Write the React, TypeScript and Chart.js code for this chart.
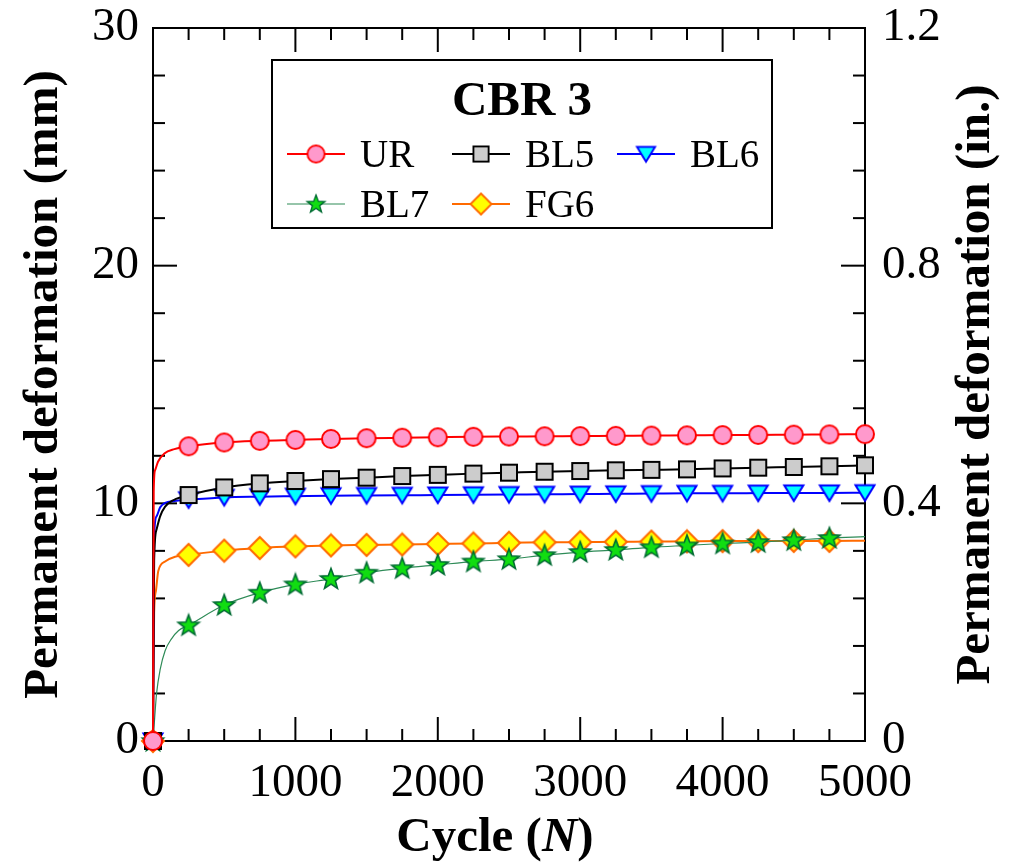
import React, { useEffect, useRef } from 'react';
import { Chart, registerables } from 'chart.js';

Chart.register(...registerables);

// ---------- data ----------
const CYCLES = [0, 250, 500, 750, 1000, 1250, 1500, 1750, 2000, 2250, 2500, 2750, 3000, 3250, 3500, 3750, 4000, 4250, 4500, 4750, 5000];

const UR = [0, 12.4, 12.56, 12.63, 12.67, 12.71, 12.74, 12.76, 12.78, 12.8, 12.81, 12.82, 12.83, 12.84, 12.85, 12.86, 12.87, 12.88, 12.89, 12.9, 12.91];
const BL5 = [0, 10.35, 10.67, 10.84, 10.94, 11.02, 11.08, 11.15, 11.2, 11.25, 11.29, 11.33, 11.36, 11.39, 11.41, 11.43, 11.47, 11.5, 11.53, 11.56, 11.6];
const BL6 = [0, 10.15, 10.25, 10.28, 10.3, 10.32, 10.33, 10.34, 10.35, 10.36, 10.37, 10.38, 10.39, 10.4, 10.41, 10.42, 10.42, 10.43, 10.44, 10.44, 10.45];
const BL7 = [0, 4.87, 5.72, 6.24, 6.59, 6.82, 7.08, 7.27, 7.41, 7.55, 7.65, 7.82, 7.95, 8.04, 8.15, 8.23, 8.31, 8.37, 8.45, 8.54, 8.6];
const FG6 = [0, 7.83, 8.01, 8.12, 8.19, 8.23, 8.25, 8.27, 8.29, 8.31, 8.34, 8.36, 8.37, 8.38, 8.39, 8.4, 8.41, 8.41, 8.42, 8.42, 8.43];

// early part of the fitted curves (no markers)
const UR_EARLY_N = [5, 15, 35, 80, 150];
const UR_EARLY = [10.5, 11.4, 11.75, 12.1, 12.28];
const BL5_EARLY_N = [8, 25, 50, 85, 145, 200];
const BL5_EARLY = [7.6, 8.9, 9.45, 9.86, 10.14, 10.26];
const BL6_EARLY_N = [8, 25, 50, 85, 150];
const BL6_EARLY = [8.6, 9.45, 9.83, 10.02, 10.1];
const BL7_EARLY_N = [12, 25, 50, 85, 130, 180];
const BL7_EARLY = [1.0, 2.0, 3.0, 3.8, 4.3, 4.65];
const FG6_EARLY_N = [8, 20, 37, 85, 155];
const FG6_EARLY = [5.4, 6.3, 7.15, 7.55, 7.75];

const X_TICKS = [0, 1000, 2000, 3000, 4000, 5000];
const Y_TICKS = [0, 10, 20, 30];
const Y2_TICKS = [0, 0.4, 0.8, 1.2];
const X_MINOR_STEP = 250;
const Y_MINOR_STEP = 2;

const LEGEND_TITLE = 'CBR 3';
const X_TITLE = ['Cycle (', 'N', ')'];
const Y_TITLE = 'Permanent deformation (mm)';
const Y2_TITLE = 'Permanent deformation (in.)';

// ---------- styles ----------
type Series = {
  label: string; values: number[]; earlyN: number[]; early: number[];
  color: string; width: number; marker: string; lastMarker: boolean; order: number;
};
const SERIES: Series[] = [
  { label: 'UR', values: UR, earlyN: UR_EARLY_N, early: UR_EARLY, color: '#ff0000', width: 2, marker: 'circle', lastMarker: true, order: 0 },
  { label: 'BL5', values: BL5, earlyN: BL5_EARLY_N, early: BL5_EARLY, color: '#000000', width: 2, marker: 'square', lastMarker: true, order: 1 },
  { label: 'BL6', values: BL6, earlyN: BL6_EARLY_N, early: BL6_EARLY, color: '#0000ff', width: 2, marker: 'tri', lastMarker: true, order: 2 },
  { label: 'BL7', values: BL7, earlyN: BL7_EARLY_N, early: BL7_EARLY, color: '#2e8b57', width: 1.2, marker: 'star', lastMarker: false, order: 3 },
  { label: 'FG6', values: FG6, earlyN: FG6_EARLY_N, early: FG6_EARLY, color: '#ff6a00', width: 2, marker: 'diamond', lastMarker: false, order: 4 },
];

const SERIF = '"Liberation Serif", "Times New Roman", serif';

function makeMarker(kind: string): HTMLCanvasElement {
  const s = 26;
  const c = document.createElement('canvas');
  c.width = s; c.height = s;
  const g = c.getContext('2d')!;
  const m = s / 2;
  g.lineWidth = 2;
  g.lineJoin = 'miter';
  g.beginPath();
  if (kind === 'circle') {
    g.arc(m, m, 9, 0, Math.PI * 2);
    g.fillStyle = '#ff99cc'; g.strokeStyle = '#ff0000';
  } else if (kind === 'square') {
    g.rect(m - 8, m - 8, 16, 16);
    g.fillStyle = '#cccccc'; g.strokeStyle = '#000000';
  } else if (kind === 'tri') {
    g.moveTo(m - 9.5, m - 7.5); g.lineTo(m + 9.5, m - 7.5); g.lineTo(m, m + 8); g.closePath();
    g.fillStyle = '#00ffff'; g.strokeStyle = '#0000ff';
  } else if (kind === 'diamond') {
    g.moveTo(m, m - 11); g.lineTo(m + 11, m); g.lineTo(m, m + 11); g.lineTo(m - 11, m); g.closePath();
    g.fillStyle = '#ffff00'; g.strokeStyle = '#ff6a00';
  } else {
    const R = 11, r = 4.6;
    for (let i = 0; i < 10; i++) {
      const a = -Math.PI / 2 + (i * Math.PI) / 5;
      const rr = i % 2 === 0 ? R : r;
      const px = m + rr * Math.cos(a), py = m + 0.5 + rr * Math.sin(a);
      if (i === 0) g.moveTo(px, py); else g.lineTo(px, py);
    }
    g.closePath();
    g.fillStyle = '#11dd11'; g.strokeStyle = '#006b33'; g.lineWidth = 1.6;
  }
  g.fill(); g.stroke();
  return c;
}

export default function App() {
  const ref = useRef<HTMLCanvasElement | null>(null);

  useEffect(() => {
    if (!ref.current) return;
    const markers: Record<string, HTMLCanvasElement> = {};
    SERIES.forEach(s => { markers[s.marker] = makeMarker(s.marker); });

    const datasets = SERIES.map(s => {
      const pts: { x: number; y: number; m: boolean }[] = [];
      s.earlyN.forEach((n, i) => pts.push({ x: n, y: s.early[i], m: false }));
      CYCLES.forEach((n, i) => pts.push({ x: n, y: s.values[i], m: s.lastMarker || i < CYCLES.length - 1 }));
      pts.sort((a, b) => a.x - b.x);
      return {
        label: s.label,
        data: pts,
        borderColor: s.color,
        borderWidth: s.width,
        backgroundColor: s.color,
        cubicInterpolationMode: 'monotone' as const,
        pointStyle: markers[s.marker],
        pointRadius: (ctx: any) => (ctx.raw && ctx.raw.m ? 10 : 0),
        pointHoverRadius: (ctx: any) => (ctx.raw && ctx.raw.m ? 10 : 0),
        clip: false as any,
        order: s.order,
        yAxisID: 'y',
      };
    });

    const decor = {
      id: 'decor',
      beforeDatasetsDraw(chart: any) {
        const { ctx, chartArea: a, scales } = chart;
        ctx.save();
        ctx.strokeStyle = '#000';
        ctx.lineWidth = 2;
        ctx.strokeRect(a.left, a.top, a.right - a.left, a.bottom - a.top);
        const seg = (x1: number, y1: number, x2: number, y2: number) => {
          ctx.beginPath(); ctx.moveTo(x1, y1); ctx.lineTo(x2, y2); ctx.stroke();
        };
        const xMax = X_TICKS[X_TICKS.length - 1];
        for (let v = 0; v <= xMax; v += X_MINOR_STEP) {
          const px = scales.x.getPixelForValue(v);
          const len = X_TICKS.includes(v) ? 24 : 12;
          seg(px, a.bottom, px, a.bottom - len);
          seg(px, a.top, px, a.top + len);
        }
        const yMax = Y_TICKS[Y_TICKS.length - 1];
        for (let v = 0; v <= yMax; v += Y_MINOR_STEP) {
          const py = scales.y.getPixelForValue(v);
          const len = Y_TICKS.includes(v) ? 24 : 12;
          seg(a.left, py, a.left + len, py);
          seg(a.right, py, a.right - len, py);
        }
        ctx.restore();
      },
      afterDatasetsDraw(chart: any) {
        const { ctx, chartArea: a } = chart;
        ctx.save();
        // legend box
        const bx = 272, by = 60, bw = 500, bh = 168;
        ctx.fillStyle = '#fff';
        ctx.fillRect(bx, by, bw, bh);
        ctx.strokeStyle = '#000';
        ctx.lineWidth = 2;
        ctx.strokeRect(bx, by, bw, bh);
        ctx.fillStyle = '#000';
        ctx.font = `bold 49px ${SERIF}`;
        ctx.textAlign = 'center';
        ctx.textBaseline = 'alphabetic';
        ctx.fillText(LEGEND_TITLE, bx + bw / 2, 115);
        const slots = [
          { x: 287, y: 154 }, { x: 452, y: 154 }, { x: 617, y: 154 },
          { x: 287, y: 204 }, { x: 452, y: 204 },
        ];
        ctx.font = `39px ${SERIF}`;
        ctx.textAlign = 'left';
        SERIES.forEach((s, i) => {
          const sl = slots[i];
          ctx.strokeStyle = s.color;
          ctx.lineWidth = s.width;
          ctx.beginPath(); ctx.moveTo(sl.x, sl.y); ctx.lineTo(sl.x + 58, sl.y); ctx.stroke();
          const img = markers[s.marker];
          const sc = s.marker === 'star' ? 0.85 : 0.95;
          ctx.drawImage(img, sl.x + 29 - (img.width * sc) / 2, sl.y - (img.height * sc) / 2, img.width * sc, img.height * sc);
          ctx.fillStyle = '#000';
          ctx.fillText(s.label, sl.x + 73, sl.y + 13);
        });

        // axis titles
        const cy = (a.top + a.bottom) / 2;
        ctx.fillStyle = '#000';
        ctx.font = `bold 49px ${SERIF}`;
        ctx.textAlign = 'center';
        ctx.textBaseline = 'alphabetic';
        ctx.save();
        ctx.translate(57, cy);
        ctx.rotate(-Math.PI / 2);
        ctx.fillText(Y_TITLE, 0, 0);
        ctx.restore();
        ctx.save();
        ctx.translate(989, cy);
        ctx.rotate(-Math.PI / 2);
        ctx.fillText(Y2_TITLE, 0, 0);
        ctx.restore();

        // x title with italic N
        const fB = `bold 49px ${SERIF}`;
        const fBI = `italic bold 49px ${SERIF}`;
        ctx.textAlign = 'left';
        ctx.font = fB; const w1 = ctx.measureText(X_TITLE[0]).width;
        ctx.font = fBI; const w2 = ctx.measureText(X_TITLE[1]).width;
        ctx.font = fB; const w3 = ctx.measureText(X_TITLE[2]).width;
        let x0 = 495 - (w1 + w2 + w3) / 2;
        const yb = 851;
        ctx.font = fB; ctx.fillText(X_TITLE[0], x0, yb); x0 += w1;
        ctx.font = fBI; ctx.fillText(X_TITLE[1], x0, yb); x0 += w2;
        ctx.font = fB; ctx.fillText(X_TITLE[2], x0, yb);
        ctx.restore();
      },
    };

    const tickFont = { family: SERIF, size: 47 };
    const noPadY = (w: number) => (sc: any) => { sc.width = w; sc.paddingTop = 0; sc.paddingBottom = 0; };
    const chart = new Chart(ref.current, {
      type: 'line',
      data: { datasets: datasets as any },
      options: {
        animation: false,
        responsive: false,
        layout: { padding: { top: 28, left: 0, right: 0, bottom: 0 } },
        plugins: { legend: { display: false }, tooltip: { enabled: false } },
        scales: {
          x: {
            type: 'linear', min: 0, max: 5000,
            afterBuildTicks: (sc: any) => { sc.ticks = X_TICKS.map(v => ({ value: v })); },
            afterFit: (sc: any) => { sc.height = 121; sc.paddingLeft = 0; sc.paddingRight = 0; },
            grid: { display: false, drawTicks: false },
            border: { display: false },
            ticks: { font: tickFont, color: '#000', padding: 14, maxRotation: 0, autoSkip: false, callback: (v: any) => String(v) },
          },
          y: {
            type: 'linear', position: 'left', min: 0, max: 30,
            afterBuildTicks: (sc: any) => { sc.ticks = Y_TICKS.map(v => ({ value: v })); },
            afterFit: noPadY(153),
            grid: { display: false, drawTicks: false },
            border: { display: false },
            ticks: { font: tickFont, color: '#000', padding: 14, autoSkip: false, callback: (v: any) => String(v) },
          },
          y2: {
            type: 'linear', position: 'right', min: 0, max: 1.2,
            afterBuildTicks: (sc: any) => { sc.ticks = Y2_TICKS.map(v => ({ value: v })); },
            afterFit: noPadY(146),
            grid: { display: false, drawTicks: false },
            border: { display: false },
            ticks: { font: tickFont, color: '#000', padding: 17, autoSkip: false, callback: (v: any) => String(v) },
          },
        },
      },
      plugins: [decor],
    });
    return () => chart.destroy();
  }, []);

  return (
    <div style={{ position: 'absolute', left: 0, top: 0, width: 1011, height: 862 }}>
      <canvas ref={ref} width={1011} height={862} style={{ display: 'block' }} />
    </div>
  );
}
